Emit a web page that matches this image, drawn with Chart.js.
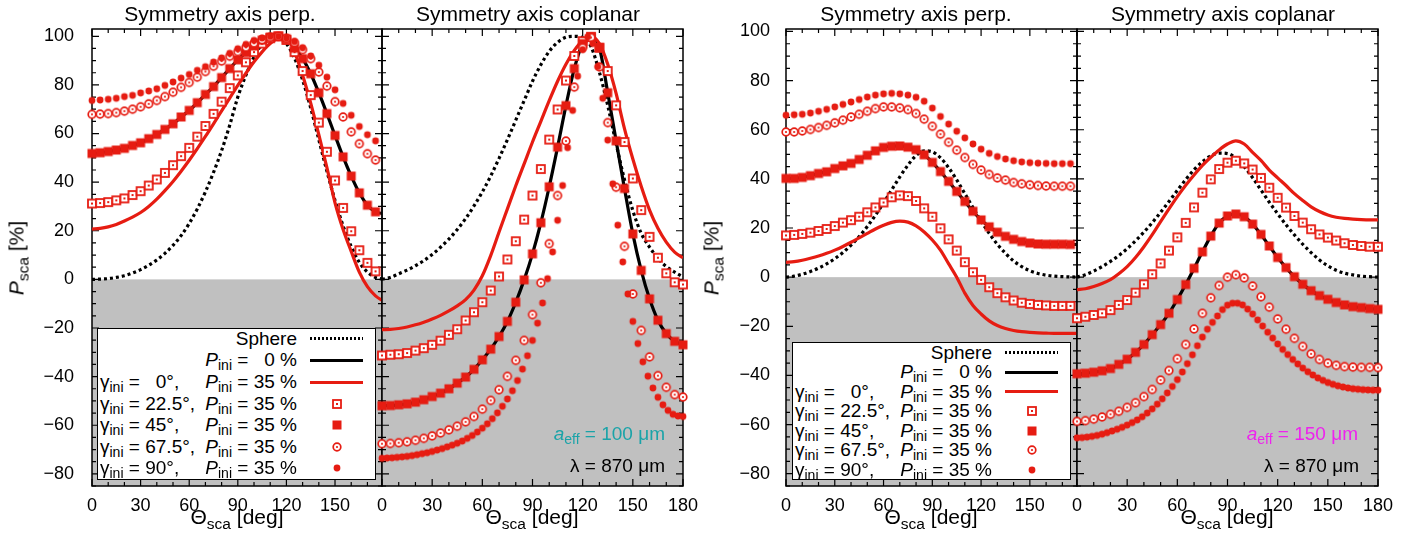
<!DOCTYPE html>
<html>
<head>
<meta charset="utf-8">
<title>P_sca versus scattering angle</title>
<script src="https://cdn.jsdelivr.net/npm/chart.js@4.4.1/dist/chart.umd.min.js"></script>
<style>
  body { margin: 0; background: #fff; }
  #wrap { position: relative; width: 1419px; height: 538px; overflow: hidden;
          font-family: "Liberation Sans", Arial, sans-serif; color: #000; }
  #wrap canvas.panel { position: absolute; top: 0; }
  .txt { position: absolute; white-space: nowrap; line-height: 1; }
  .title { font-size: 21px; top: 3px; transform: translateX(-50%); }
  .xlab { font-size: 21px; top: 506px; transform: translateX(-50%); }
  .ylab { font-size: 21px; transform: translate(-50%, -50%) rotate(-90deg); }
  .note { font-size: 19px; transform: translateX(-100%); }
  sub { font-size: 0.74em; vertical-align: -0.32em; line-height: 0; }
  .legend { position: absolute; box-sizing: border-box; border: 1px solid #000;
            background: #fff; width: 279px; font-size: 19px; }
  .legend .row { position: absolute; left: 0; width: 100%; height: 20px; line-height: 20px; white-space: nowrap; }
  .legend .g { position: absolute; left: 2px; }
  .legend .p { position: absolute; left: 0; width: 199px; text-align: right; }
  .legend .smp { position: absolute; left: 212px; width: 53px; top: 8.5px; height: 3px; }
  .legend canvas { position: absolute; left: 233px; top: 4px; }
</style>
</head>
<body>
<div id="wrap"></div>
<script>
// angles (deg)
const th5 = [0,5,10,15,20,25,30,35,40,45,50,55,60,65,70,75,80,85,90,95,100,105,110,115,120,125,130,135,140,145,150,155,160,165,170,175,180];
const th3 = [0,3,6,9,12,15,18,21,24,27,30,33,36,39,42,45,48,51,54,57,60,63,66,69,72,75,78,81,84,87,90,93,96,99,102,105,108,111,114,117,120,123,126,129,132,135,138,141,144,147,150,153,156,159,162,165,168,171,174,177,180];

const xTicksPerp = [0, 30, 60, 90, 120, 150];
const xTicksCopl = [0, 30, 60, 90, 120, 150, 180];
const yTicks = [-80, -60, -40, -20, 0, 20, 40, 60, 80, 100];

// a_eff = 100 um, symmetry axis perp.
const sphPerp100 = [0,0.1,0.3,0.8,1.5,2.6,4,5.8,8,10.7,14,18,23,29,36,44,53,63.4,75,84,91.5,96.8,99.2,99.9,97,91,82,70.5,57.5,44.5,32.5,22,13.5,7,3,0.8,0];
const p0Perp100 = [51.8,52.1,52.6,53.2,53.9,55.1,56.2,57.9,59.6,61.7,64,66.8,69.5,72.7,76.1,79.3,83,86.7,90.3,93.3,96,98.4,99.7,100,99,95.1,90.8,84.6,76.8,68.2,59.2,50.4,42.5,35.6,30.5,27.8,27];
const g0Perp100 = [20.7,21,21.6,22.6,24,25.6,27.5,30,33,36.5,40.3,44.5,49,53.8,58.8,64,69.3,74.6,79.8,84.8,89.5,93.6,97,99.3,99.7,93.5,84,72.5,59.5,46,31.5,20.5,11.5,3,-3,-6.8,-9];
const g22Perp100 = [31.2,31.4,31.8,32.5,33.3,34.7,36.3,38.6,41.1,43.8,47,50.7,54.1,58.7,63.1,68.1,73.1,78.7,83.9,89.3,93.5,97,99.2,100,98.5,93.5,85.7,75.8,64.5,52.5,40.7,29.4,19.8,12,6.8,3.3];
const g45Perp100 = [51.8,52.1,52.6,53.2,53.9,55.1,56.2,57.9,59.6,61.7,64,66.8,69.5,72.7,76.1,79.3,83,86.7,90.3,93.3,96,98.4,99.7,100,99,95.1,90.8,84.6,76.8,68.2,59.2,50.4,42.5,35.6,30.5,27.8];
const g67Perp100 = [67.9,68,68.2,68.6,69.2,70,71,72.2,73.6,75.2,77,79,81,83.2,85.5,87.7,89.8,91.8,93.7,95.5,97.2,98.6,99.6,100,99.2,97.4,94.5,90.8,85.3,79.5,73.1,66.8,60.7,55.8,51.7,49.1];
const g90Perp100 = [73.6,73.8,74.1,74.5,75.2,75.7,76.7,77.5,78.4,79.8,81.2,82.8,84.3,86,87.5,89.4,91.1,93,94.9,96.7,98.3,99.3,99.9,100,99.3,97.8,95.3,91.9,88.1,83.2,78,72.4,67.5,62.9,59.5,57];

// a_eff = 100 um, symmetry axis coplanar
const sphCopl100 = [0,0.8,2.3,3.8,5.6,7.7,10.2,13.2,16.6,20.5,25,30.2,36,42.5,49.8,57.5,65.5,73.5,81.5,88.3,93.8,97.5,99.6,100,99.4,95.7,85.2,71.5,55.8,41,28.3,19,13.3,8.6,5.3,3,1];
const p0Copl100 = [-52,-51.9,-51.6,-51.2,-50.5,-49.5,-48.2,-46.8,-45,-42.7,-40.2,-37,-33.1,-28.7,-23.5,-17.3,-9.4,-0.2,10.5,23.3,38.1,54.4,71.5,86.7,97,99.7,95.3,76.8,57,37.4,18.7,3.7,-8,-16.8,-22.3,-25.5,-26.9];
const g0Copl100 = [-20.7,-20.6,-20.2,-19.6,-18.7,-17.6,-16.3,-14.8,-13,-10.9,-8.3,-4.4,1.5,9.8,19.5,29,38.5,47.5,56.5,65,73.5,81.5,88.5,94.2,98.3,100,97,88.5,76.5,62,49.5,38.3,28.5,21,15.3,11.2,8.9];
const g22Copl100 = [-31.3,-31,-30.8,-30.3,-29.3,-28.3,-26.9,-25.2,-22.8,-20.5,-16.9,-13.5,-9.4,-4.6,1.2,8.2,15.7,24.6,34.5,45.4,57.5,69.9,81.8,91.9,98,99.8,95.3,85.7,71.6,56.5,41.5,28.5,17.5,8.9,2.5,-1.2,-2.1];
const g45Copl100 = [-52,-51.9,-51.6,-51.2,-50.5,-49.5,-48.2,-46.8,-45,-42.7,-40.2,-37,-33.1,-28.7,-23.5,-17.3,-9.4,-0.2,10.5,23.3,38.1,54.4,71.5,86.7,97,99.7,95.3,76.8,57,37.4,18.7,3.7,-8,-16.8,-22.3,-25.5,-26.9];
const g67Copl100 = [-67.6,-67.5,-67.2,-66.8,-66.2,-65.4,-64.4,-63.2,-61.9,-60.4,-58.6,-56.4,-53.4,-49.8,-45.4,-39.9,-33.3,-25.1,-14.5,-1.4,14.7,34.5,56.9,79.1,95.3,99.5,87.4,64.5,37.9,13.6,-6,-21,-31.9,-39.6,-44.4,-47.4,-48.4];
const g90Copl100 = [-73.6,-73.5,-73.4,-73.2,-73,-72.8,-72.5,-72.1,-71.7,-71.3,-70.8,-70.2,-69.6,-68.9,-68.2,-67.4,-66.5,-65.4,-64.2,-62.8,-61.2,-59.4,-57.3,-54.9,-52.2,-49.2,-45.8,-41.6,-36.9,-31.4,-25.1,-18,-9.7,0.3,11.3,24.3,38.6,54.2,69.5,83.6,94.5,99.8,97,87.5,74.5,57.3,39.3,22.3,7.2,-6,-17.3,-26.4,-33.9,-39.8,-44.7,-48.5,-51.6,-53.9,-55.5,-56.2,-56.4];

// a_eff = 150 um, symmetry axis perp.
const sphPerp150 = [0,0.4,1.2,2.3,3.7,5.4,7.5,10,13,16.5,20.6,25.2,30.2,35.5,40.8,45.6,49.5,51.4,51,48.6,44.6,39.6,34,28.3,22.8,17.8,13.4,9.7,6.6,4.3,2.6,1.5,0.8,0.4,0.2,0.1,0];
const p0Perp150 = [40.2,40.2,40.6,41.3,42.2,42.9,44.2,45.3,46.3,47.9,49.6,51.4,52.8,53.3,53.4,52.9,51.9,49.8,46.7,43,39,34.9,30.8,26.8,23.3,20.5,18.3,16.6,15.4,14.5,13.9,13.5,13.4,13.4,13.4,13.3,13.3];
const g0Perp150 = [6,6.3,6.9,7.7,8.6,9.7,11,12.5,14.2,16,17.8,19.6,21.1,22.3,22.8,22.4,20.9,18.4,15.1,11,5.5,0,-6.5,-11.5,-15,-17.8,-19.7,-20.9,-21.7,-22.2,-22.5,-22.7,-22.8,-22.9,-22.9,-22.9,-22.9];
const g22Perp150 = [17,17.2,17.6,18.1,18.8,19.6,20.8,22.2,23.2,24.6,26.4,28.4,30.4,32.5,33.3,33,31,28,24.6,19.9,15.4,10.8,6.1,2,-1.1,-4.1,-6.5,-8.2,-9.5,-10.4,-10.9,-11.3,-11.5,-11.7,-11.7,-11.7];
const g45Perp150 = [40.2,40.2,40.6,41.3,42.2,42.9,44.2,45.3,46.3,47.9,49.6,51.4,52.8,53.3,53.4,52.9,51.9,49.8,46.7,43,39,34.9,30.8,26.8,23.3,20.5,18.3,16.6,15.4,14.5,13.9,13.5,13.4,13.4,13.4,13.3];
const g67Perp150 = [59.1,59.1,59.5,60.1,60.9,61.8,62.8,63.9,65.2,66.3,67.5,68.6,69.3,69.3,68.9,68.2,66.6,64.3,61.4,58.2,54.9,51.7,48.7,45.9,43.6,41.8,40.4,39.5,38.5,38,37.6,37.3,37.1,37,37,37];
const g90Perp150 = [65.9,66.1,66.3,66.8,67.5,68.3,69.3,70.3,71.3,72.3,73.3,74.1,74.6,74.8,74.6,74.1,73.2,71.6,68.8,65.4,62.3,59.4,56.7,54.2,52.1,50.4,49.1,48.1,47.4,46.9,46.6,46.4,46.3,46.2,46.2,46.2];

// a_eff = 150 um, symmetry axis coplanar
const sphCopl150 = [0,1,2.5,4.3,6.4,8.8,11.6,14.8,18.3,22.2,26.4,30.8,35.3,39.7,43.7,47,49.4,50.5,50.3,48.5,45,40.5,35.5,30.5,25.8,21.3,17.2,13.4,10,7,4.6,2.8,1.6,0.9,0.4,0.2,0];
const p0Copl150 = [-39.3,-39.1,-38.7,-38.1,-37.2,-35.5,-33.4,-30.6,-27.4,-23.4,-19.3,-14.7,-9.1,-3,3.6,10.3,16.7,22,24.9,25.7,24.6,21.6,17.4,12.7,8,3.9,0.2,-2.9,-5.5,-7.5,-9,-10.3,-11.3,-12,-12.4,-12.8,-13.1];
const g0Copl150 = [-5.1,-4.7,-3.8,-2.6,-1,1.4,4.3,8,12.4,17.3,22.6,27.8,32.8,37.4,41.6,45.5,48.8,51.8,54.2,55.5,54.2,50.8,47.5,43.6,40.4,37.3,34,31.2,28.6,26.7,25.3,24.4,23.9,23.6,23.4,23.3,23.3];
const g22Copl150 = [-16.7,-16.1,-15.4,-14.7,-13.4,-11.3,-9.3,-6.3,-2.9,1.2,5.6,10.8,16.2,22.1,28.4,34.4,39.8,44,46.6,47.4,46.3,43.8,40.4,36.4,32.3,28.3,24.9,22.2,19.5,17.4,16.1,14.9,13.8,13.1,12.7,12.4,12.4];
const g45Copl150 = [-39.3,-39.1,-38.7,-38.1,-37.2,-35.5,-33.4,-30.6,-27.4,-23.4,-19.3,-14.7,-9.1,-3,3.6,10.3,16.7,22,24.9,25.7,24.6,21.6,17.4,12.7,8,3.9,0.2,-2.9,-5.5,-7.5,-9,-10.3,-11.3,-12,-12.4,-12.8,-13.1];
const g67Copl150 = [-58.7,-58.4,-57.8,-56.9,-55.8,-54.6,-53,-51.1,-48.6,-45.7,-41.9,-38,-33.2,-27.4,-21.1,-14.7,-8.4,-3.4,0,1,-0.3,-3.6,-8,-12.2,-17,-21.2,-24.9,-28.2,-31.2,-33.5,-35,-35.9,-36.4,-36.6,-36.7,-36.7,-36.8];
const g90Copl150 = [-65.4,-65.3,-65.1,-64.8,-64.4,-63.9,-63.3,-62.6,-61.9,-61.1,-60.2,-59.2,-58.1,-56.8,-55.3,-53.6,-51.7,-49.5,-47.1,-44.5,-41.7,-38.6,-35.2,-31.6,-27.9,-24.4,-21.2,-18.4,-15.8,-13.2,-11.4,-10.6,-10.6,-11.3,-13,-15,-17.4,-19.9,-22.4,-24.8,-27.2,-29.4,-31.5,-33.5,-35.3,-37,-38.5,-39.8,-41,-42,-42.9,-43.6,-44.2,-44.7,-45.1,-45.4,-45.6,-45.8,-45.9,-46,-46];

const legendRows = [
  ['', 'Sphere', 'dots'],
  ['', '<i>P</i><sub>ini</sub> = &nbsp;&nbsp;0 %', 'black'],
  ['γ<sub>ini</sub> = &nbsp;&nbsp;0°,', '<i>P</i><sub>ini</sub> = 35 %', 'red'],
  ['γ<sub>ini</sub> = 22.5°,', '<i>P</i><sub>ini</sub> = 35 %', 'osq'],
  ['γ<sub>ini</sub> = 45°,', '<i>P</i><sub>ini</sub> = 35 %', 'sq'],
  ['γ<sub>ini</sub> = 67.5°,', '<i>P</i><sub>ini</sub> = 35 %', 'oc'],
  ['γ<sub>ini</sub> = 90°,', '<i>P</i><sub>ini</sub> = 35 %', 'fc']
];

const RED = '#e61c12';
const SHADE = '#c0c0c0';
const wrap = document.getElementById('wrap');
Chart.defaults.font.family = "'Liberation Sans', Arial, sans-serif";

// gnuplot-like point symbols
function marker(kind) {
  const c = document.createElement('canvas');
  c.width = c.height = 12;
  const g = c.getContext('2d');
  g.fillStyle = RED; g.strokeStyle = RED;
  if (kind === 'osq') {
    g.fillStyle = '#fff'; g.fillRect(2, 2, 8, 8);
    g.lineWidth = 1.8; g.strokeRect(2, 2, 8, 8);
    g.fillStyle = RED; g.fillRect(5, 5, 2, 2);
  } else if (kind === 'sq') {
    g.fillRect(1.5, 1.5, 9, 9);
  } else if (kind === 'oc') {
    g.fillStyle = '#fff';
    g.beginPath(); g.arc(6, 6, 3.8, 0, 2 * Math.PI); g.fill();
    g.lineWidth = 1.7; g.stroke();
    g.fillStyle = RED;
    g.beginPath(); g.arc(6, 6, 1.1, 0, 2 * Math.PI); g.fill();
  } else {
    g.beginPath(); g.arc(6, 6, 3.4, 0, 2 * Math.PI); g.fill();
  }
  return c;
}

const zip = (xs, ys) => ys.map((v, i) => ({x: xs[i], y: v}));

function lineSet(ys, color, dash, order) {
  return {data: zip(th5, ys), showLine: true, borderColor: color, borderWidth: 3.2,
          borderDash: dash, pointRadius: 0, cubicInterpolationMode: 'monotone', clip: 0, order: order};
}
function pointSet(xs, ys, kind, order) {
  return {data: zip(xs, ys), showLine: false, pointStyle: marker(kind), pointRadius: 4, clip: false, order: order};
}

const fmt = v => String(v).replace('-', '\u2212');

const framePlugin = {
  id: 'frame',
  beforeDatasetsDraw(chart) {
    const {ctx, chartArea: a, scales: {x, y}} = chart;
    const y0 = y.getPixelForValue(0);
    ctx.save();
    ctx.fillStyle = SHADE;
    ctx.fillRect(a.left, y0, a.right - a.left, a.bottom - y0);
    ctx.strokeStyle = '#000';
    ctx.lineWidth = 1.2;
    ctx.beginPath();
    for (let v = 0; v <= x.max + 1e-6; v += 10) {
      const px = x.getPixelForValue(v), len = v % 30 === 0 ? 7 : 4;
      ctx.moveTo(px, a.top); ctx.lineTo(px, a.top + len);
      ctx.moveTo(px, a.bottom); ctx.lineTo(px, a.bottom - len);
    }
    for (let v = Math.ceil(y.min / 5) * 5; v <= y.max + 1e-6; v += 5) {
      const py = y.getPixelForValue(v), len = v % 20 === 0 ? 7 : 4;
      ctx.moveTo(a.left, py); ctx.lineTo(a.left + len, py);
      ctx.moveTo(a.right, py); ctx.lineTo(a.right - len, py);
    }
    ctx.stroke();
    ctx.lineWidth = 1.5;
    ctx.strokeRect(a.left, a.top, a.right - a.left, a.bottom - a.top);
    ctx.restore();
  }
};

function makePanel(cfg) {
  const cv = document.createElement('canvas');
  cv.width = cfg.w; cv.height = 538;
  cv.className = 'panel';
  cv.style.left = cfg.left + 'px';
  wrap.appendChild(cv);
  const pxs = cfg.xMax < 180 ? th5.slice(0, 36) : th5;
  const s = cfg.series;
  return new Chart(cv, {
    type: 'scatter',
    data: {
      datasets: [
        lineSet(s.sph, '#000', [3, 3], 7),
        lineSet(s.p0, '#000', [], 6),
        lineSet(s.g0, RED, [], 5),
        pointSet(pxs, s.g22, 'osq', 4),
        pointSet(pxs, s.g45, 'sq', 3),
        pointSet(pxs, s.g67, 'oc', 2),
        pointSet(cfg.g90x, s.g90, 'fc', 1)
      ]
    },
    options: {
      responsive: false, animation: false, events: [],
      layout: {padding: {left: cfg.padL, right: cfg.padR, top: 29, bottom: 0}},
      plugins: {legend: {display: false}, tooltip: {enabled: false}},
      scales: {
        x: {
          type: 'linear', min: 0, max: cfg.xMax,
          grid: {display: false}, border: {display: false},
          afterBuildTicks: sc => { sc.ticks = cfg.xTicks.map(v => ({value: v})); },
          afterFit: sc => { sc.height = 52; },
          ticks: {font: {size: 18}, color: '#000', padding: 1, maxRotation: 0, autoSkip: false, callback: fmt}
        },
        y: {
          type: 'linear', min: cfg.yMin, max: cfg.yMax, display: cfg.showY,
          grid: {display: false}, border: {display: false},
          afterBuildTicks: sc => { sc.ticks = yTicks.map(v => ({value: v})); },
          afterFit: sc => { sc.width = cfg.yW || 0; },
          ticks: {font: {size: 18}, color: '#000', padding: cfg.yPad || 8, autoSkip: false, callback: fmt}
        }
      }
    },
    plugins: [framePlugin]
  });
}

makePanel({left: 0, w: 400, padL: 0, padR: 18, yW: 92, yPad: 10, showY: true, xMax: 179, yMin: -85, yMax: 103,
  xTicks: xTicksPerp, g90x: th5,
  series: {sph: sphPerp100, p0: p0Perp100, g0: g0Perp100, g22: g22Perp100, g45: g45Perp100, g67: g67Perp100, g90: g90Perp100}});
makePanel({left: 362, w: 350, padL: 20, padR: 29, showY: false, xMax: 180, yMin: -85, yMax: 103,
  xTicks: xTicksCopl, g90x: th3,
  series: {sph: sphCopl100, p0: p0Copl100, g0: g0Copl100, g22: g22Copl100, g45: g45Copl100, g67: g67Copl100, g90: g90Copl100}});
makePanel({left: 690, w: 400, padL: 0, padR: 13, yW: 96, yPad: 8, showY: true, xMax: 179, yMin: -85, yMax: 101,
  xTicks: xTicksPerp, g90x: th5,
  series: {sph: sphPerp150, p0: p0Perp150, g0: g0Perp150, g22: g22Perp150, g45: g45Perp150, g67: g67Perp150, g90: g90Perp150}});
makePanel({left: 1057, w: 362, padL: 20, padR: 41, showY: false, xMax: 180, yMin: -85, yMax: 101,
  xTicks: xTicksCopl, g90x: th3,
  series: {sph: sphCopl150, p0: p0Copl150, g0: g0Copl150, g22: g22Copl150, g45: g45Copl150, g67: g67Copl150, g90: g90Copl150}});

// text overlays
function addText(cls, html, style) {
  const d = document.createElement('div');
  d.className = 'txt ' + cls;
  d.innerHTML = html;
  Object.assign(d.style, style);
  wrap.appendChild(d);
}
addText('title', 'Symmetry axis perp.', {left: '220px'});
addText('title', 'Symmetry axis coplanar', {left: '528px'});
addText('title', 'Symmetry axis perp.', {left: '916px'});
addText('title', 'Symmetry axis coplanar', {left: '1223px'});
const thetaLab = 'Θ<sub>sca</sub> [deg]';
[237, 532, 931, 1227].forEach(x => addText('xlab', thetaLab, {left: x + 'px'}));
const pLab = '<i>P</i><sub>sca</sub> [%]';
addText('ylab', pLab, {left: '16px', top: '258px'});
addText('ylab', pLab, {left: '711px', top: '258px'});
addText('note', '<i>a</i><sub>eff</sub> = 100 μm', {left: '665px', top: '424px', color: '#1aa3a8'});
addText('note', 'λ = 870 μm', {left: '665px', top: '456px'});
addText('note', '<i>a</i><sub>eff</sub> = 150 μm', {left: '1358px', top: '424px', color: '#ee22ee'});
addText('note', 'λ = 870 μm', {left: '1359px', top: '456px'});

function addLegend(left, top, height, firstRow, step) {
  const box = document.createElement('div');
  box.className = 'legend';
  Object.assign(box.style, {left: left + 'px', top: top + 'px', height: height + 'px'});
  legendRows.forEach((r, i) => {
    const row = document.createElement('div');
    row.className = 'row';
    row.style.top = (firstRow + i * step - 11) + 'px';
    row.innerHTML = '<span class="g">' + r[0] + '</span><span class="p">' + r[1] + '</span>';
    if (r[2] === 'dots' || r[2] === 'black' || r[2] === 'red') {
      const s = document.createElement('div');
      s.className = 'smp';
      s.style.background = r[2] === 'dots'
        ? 'repeating-linear-gradient(90deg, #000 0 2px, transparent 2px 4px)'
        : (r[2] === 'red' ? RED : '#000');
      row.appendChild(s);
    } else {
      row.appendChild(marker(r[2]));
    }
    box.appendChild(row);
  });
  wrap.appendChild(box);
}
addLegend(97, 328, 152, 10.8, 21.6);
addLegend(792, 342, 138, 10.7, 19.55);
</script>
</body>
</html>
